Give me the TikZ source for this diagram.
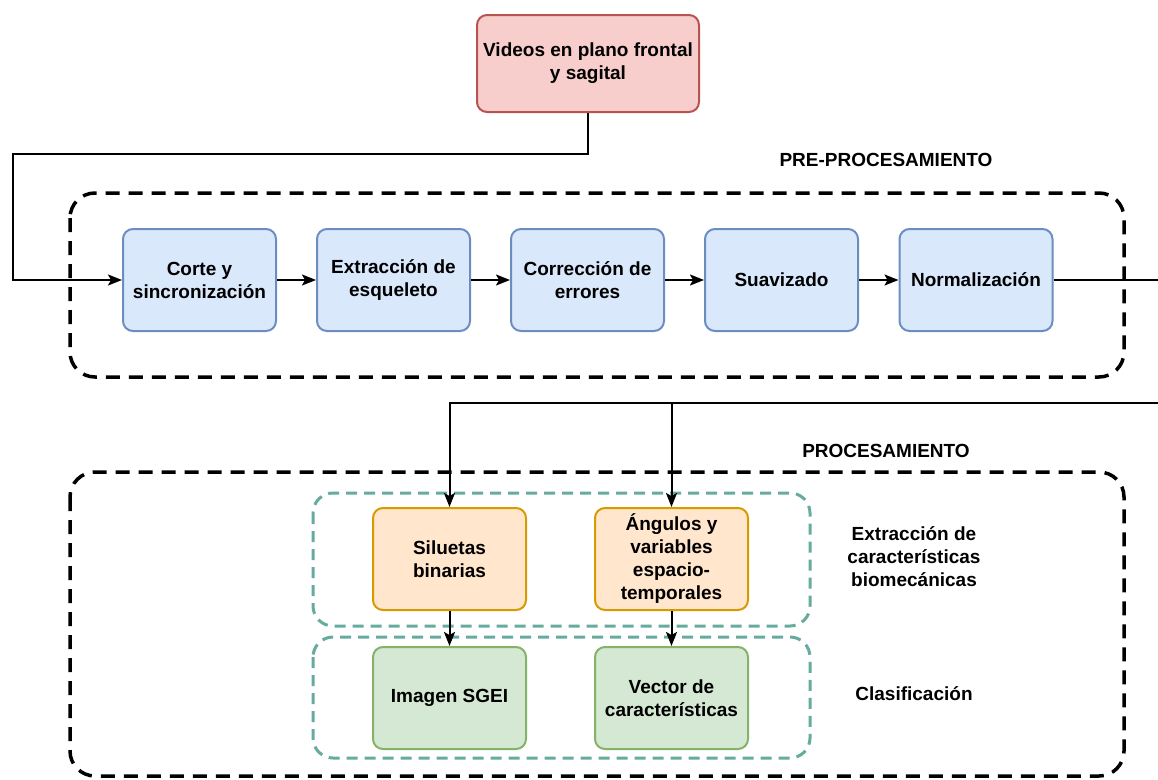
\documentclass[tikz,border=0pt]{standalone}
\usepackage{fontspec}
\setmainfont{Liberation Sans}
\usetikzlibrary{arrows.meta}

\definecolor{redfill}{HTML}{F8CECC}
\definecolor{redline}{HTML}{B85450}
\definecolor{bluefill}{HTML}{DAE8FC}
\definecolor{blueline}{HTML}{6C8EBF}
\definecolor{orangefill}{HTML}{FFE6CC}
\definecolor{orangeline}{HTML}{D79B00}
\definecolor{greenfill}{HTML}{D5E8D4}
\definecolor{greenline}{HTML}{82B366}
\definecolor{tealline}{HTML}{67AB9F}

\tikzset{
  txt/.style={font=\fontsize{19}{23}\selectfont\bfseries, align=center},
  box/.style={txt, rounded corners=10pt, line width=2pt,
    minimum width=153pt, minimum height=102pt, inner sep=2pt},
  sourcebox/.style={box, draw=redline, fill=redfill,
    minimum width=222pt, minimum height=97pt},
  prebox/.style={box, draw=blueline, fill=bluefill},
  featbox/.style={box, draw=orangeline, fill=orangefill},
  outbox/.style={box, draw=greenline, fill=greenfill},
  stagebox/.style={draw=black, line width=3.5pt, rounded corners=25pt,
    dash pattern=on 14pt off 9pt},
  groupbox/.style={draw=tealline, line width=3pt, rounded corners=20pt,
    dash pattern=on 11pt off 7pt},
  flow/.style={line width=2pt, -{Stealth[length=14pt, width=11pt, inset=3pt]}},
  plain/.style={line width=2pt},
}

\begin{document}
\begin{tikzpicture}[x=1pt, y=-1pt]
\useasboundingbox (0,0) rectangle (1158,779);

% stage containers
\draw[stagebox] (70,193) rectangle (1124,377);
\draw[stagebox] (70,472) rectangle (1124,776);
\draw[groupbox] (313,493) rectangle (810,626);
\draw[groupbox] (313,637) rectangle (810,758);

% stage titles
\node[txt] (tpre) at (886,160) {PRE-PROCESAMIENTO};
\node[txt] (tpro) at (886,451) {PROCESAMIENTO};
\node[txt] (tfeat) at (914,557) {Extracción de\\características\\biomecánicas};
\node[txt] (tcls) at (914,694) {Clasificación};

% input
\node[sourcebox] (src) at (588,63.5) {Videos en plano frontal\\y sagital};

% pre-processing chain
\node[prebox] (p1) at (199.5,280) {Corte y\\sincronización};
\node[prebox] (p2) at (393.5,280) {Extracción de\\esqueleto};
\node[prebox] (p3) at (587.5,280) {Corrección de\\errores};
\node[prebox] (p4) at (781.5,280) {Suavizado};
\node[prebox] (p5) at (976,280) {Normalización};

% processing
\node[featbox] (f1) at (449.5,559) {Siluetas\\binarias};
\node[featbox] (f2) at (671.5,559) {Ángulos y\\variables\\espacio-\\temporales};
\node[outbox] (o1) at (449.5,698) {Imagen SGEI};
\node[outbox] (o2) at (671.5,698) {Vector de\\características};

% connectors
\coordinate (exitR) at (1162,280);
\coordinate (backR) at (1162,403);
\coordinate (split) at (671.5,403);

\draw[flow] (src.south) |- (13,154) |- (p1.west);
\draw[flow] (p1) -- (p2);
\draw[flow] (p2) -- (p3);
\draw[flow] (p3) -- (p4);
\draw[flow] (p4) -- (p5);
\draw[plain] (p5.east) -- (exitR);
\draw[flow] (backR) -- (split) -| (f1.north);
\draw[flow] (split) -- (f2.north);
\draw[flow] (f1) -- (o1);
\draw[flow] (f2) -- (o2);
\end{tikzpicture}
\end{document}
